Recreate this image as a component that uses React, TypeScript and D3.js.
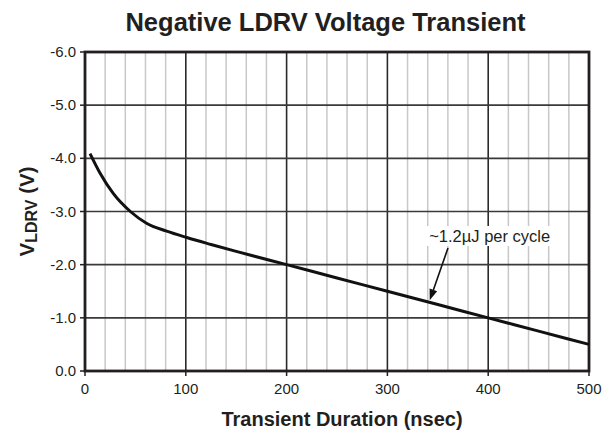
import React from "react";
import * as d3 from "d3";

const durations = [5, 15, 28, 45, 61, 81, 101, 125, 150, 200, 250, 300, 350, 400, 450, 500];
const voltages = [-4.09, -3.72, -3.34, -3.0, -2.78, -2.63, -2.51, -2.38, -2.25, -2.0, -1.75, -1.5, -1.25, -1.0, -0.75, -0.5];
const yTicks = [-6, -5, -4, -3, -2, -1, 0];
const xTicks = [0, 100, 200, 300, 400, 500];
const xMinor = d3.range(0, 501, 20);
const annotationText = "~1.2µJ per cycle";
const annotationPoint = { x: 342, v: -1.33 };

export default function App() {
  const W = 605, H = 433;
  const m = { l: 85, r: 16, t: 52, b: 62 };
  const x = d3.scaleLinear().domain([0, 500]).range([m.l, W - m.r]);
  const y = d3.scaleLinear().domain([0, -6]).range([H - m.b, m.t]);
  const line = d3.line<number>().x((_, i) => x(durations[i])).y((d) => y(d)).curve(d3.curveMonotoneX);
  const font = "Liberation Sans, Arial, Helvetica, sans-serif";
  const tipX = x(annotationPoint.x), tipY = y(annotationPoint.v);
  const startX = 448, startY = 248;
  const ang = Math.atan2(tipY - startY, tipX - startX);
  const ah = 11, aw = 4;
  const bx = tipX - ah * Math.cos(ang), by = tipY - ah * Math.sin(ang);
  const px = -Math.sin(ang) * aw, py = Math.cos(ang) * aw;
  return (
    <svg width={W} height={H} style={{ position: "absolute", left: 0, top: 0, background: "#fff" }} fontFamily={font}>
      <rect x={0} y={0} width={W} height={H} fill="#fff" />
      {xMinor.filter((v) => v % 100 !== 0).map((v) => (
        <line key={"mn" + v} x1={x(v)} x2={x(v)} y1={y(-6)} y2={y(0)} stroke="#c8c8c8" strokeWidth={1.5} />
      ))}
      {xTicks.map((v) => (
        <line key={"mx" + v} x1={x(v)} x2={x(v)} y1={y(-6)} y2={y(0)} stroke="#2a2a2a" strokeWidth={1.6} />
      ))}
      {yTicks.map((v) => (
        <line key={"my" + v} x1={x(0)} x2={x(500)} y1={y(v)} y2={y(v)} stroke="#3a3a3a" strokeWidth={1.6} />
      ))}
      <rect x={x(0)} y={y(-6)} width={x(500) - x(0)} height={y(0) - y(-6)} fill="none" stroke="#231f20" strokeWidth={2.8} />
      {yTicks.map((v) => (
        <g key={"yt" + v}>
          <line x1={x(0) - 5} x2={x(0)} y1={y(v)} y2={y(v)} stroke="#231f20" strokeWidth={1.5} />
          <text x={x(0) - 9} y={y(v) + 5} textAnchor="end" fontSize={15} fill="#231f20">{v.toFixed(1)}</text>
        </g>
      ))}
      {xTicks.map((v) => (
        <g key={"xt" + v}>
          <line x1={x(v)} x2={x(v)} y1={y(0)} y2={y(0) + 5} stroke="#231f20" strokeWidth={1.5} />
          <text x={x(v)} y={y(0) + 23} textAnchor="middle" fontSize={15} fill="#231f20">{v}</text>
        </g>
      ))}
      <path d={line(voltages) || ""} fill="none" stroke="#111" strokeWidth={3} strokeLinejoin="round" />
      <rect x={424} y={226} width={132} height={20} fill="#fff" />
      <text x={489.7} y={242} textAnchor="middle" fontSize={16.5} fill="#231f20">{annotationText}</text>
      <line x1={startX} y1={startY} x2={bx} y2={by} stroke="#111" strokeWidth={1.6} />
      <polygon points={`${tipX},${tipY} ${bx + px},${by + py} ${bx - px},${by - py}`} fill="#111" />
      <text x={325.5} y={31} textAnchor="middle" fontSize={25.5} fontWeight="bold" fill="#231f20">Negative LDRV Voltage Transient</text>
      <text x={342} y={426} textAnchor="middle" fontSize={20} fontWeight="bold" fill="#231f20">Transient Duration (nsec)</text>
      <text transform={`translate(34, ${y(-3)}) rotate(-90)`} textAnchor="middle" fontSize={20.5} fontWeight="bold" fill="#231f20">
        V<tspan dy={3} fontSize={16}>LDRV</tspan><tspan dy={-3}> (V)</tspan>
      </text>
    </svg>
  );
}
